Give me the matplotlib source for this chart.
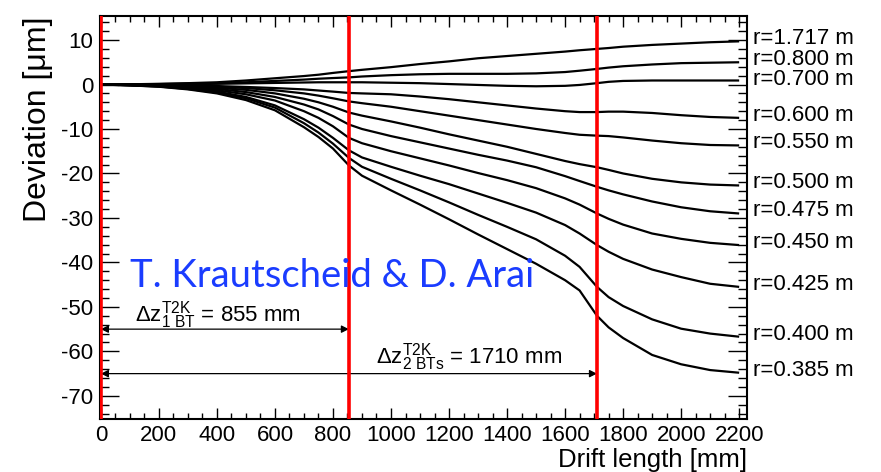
import matplotlib
matplotlib.use('Agg')
import matplotlib.pyplot as plt
from matplotlib.ticker import MultipleLocator

plt.rcParams['font.family'] = ['Liberation Sans', 'DejaVu Sans']
plt.rcParams['mathtext.fontset'] = 'custom'
plt.rcParams['mathtext.rm'] = 'Liberation Sans'
plt.rcParams['mathtext.it'] = 'Liberation Sans:italic'
plt.rcParams['axes.unicode_minus'] = False

drift = [0, 100, 200, 300, 400, 500, 600, 700, 750, 800, 855, 900, 1000,
         1100, 1200, 1300, 1400, 1500, 1600, 1650, 1710, 1750, 1800, 1900,
         2000, 2100, 2200]

radii = ['1.717', '0.800', '0.700', '0.600', '0.550', '0.500', '0.475',
         '0.450', '0.425', '0.400', '0.385']

dev_1717 = [0, 0.05, 0.15, 0.3, 0.5, 0.9, 1.4, 1.9, 2.2, 2.6, 3.0, 3.3, 3.9,
            4.6, 5.2, 5.9, 6.4, 6.9, 7.4, 7.7, 8.0, 8.2, 8.5, 8.9, 9.2, 9.5, 9.7]
dev_0800 = [0, 0.05, 0.1, 0.2, 0.3, 0.5, 0.8, 1.1, 1.3, 1.45, 1.6, 1.8, 2.1,
            2.3, 2.4, 2.4, 2.4, 2.5, 2.8, 3.1, 3.5, 3.8, 4.1, 4.5, 4.8, 4.9, 5.0]
dev_0700 = [0, 0, 0.05, 0.1, 0.15, 0.25, 0.35, 0.45, 0.5, 0.5, 0.5, 0.5, 0.4,
            0.3, 0.1, -0.1, -0.3, -0.4, -0.3, -0.1, 0.3, 0.6, 0.8, 0.9, 0.9,
            0.9, 0.9]
dev_0600 = [0, -0.05, -0.1, -0.2, -0.35, -0.55, -0.8, -1.1, -1.35, -1.6, -1.9,
            -2.0, -2.2, -2.7, -3.3, -4.0, -4.7, -5.4, -6.0, -6.2, -6.2, -6.1,
            -6.1, -6.4, -6.9, -7.3, -7.5]
dev_0550 = [0, -0.05, -0.15, -0.3, -0.5, -0.8, -1.3, -2.0, -2.5, -3.1, -3.8,
            -4.2, -5.0, -6.0, -7.0, -8.0, -9.0, -10.0, -10.9, -11.3, -11.5,
            -11.6, -11.9, -12.6, -13.2, -13.6, -13.7]
dev_0500 = [0, -0.1, -0.2, -0.45, -0.75, -1.2, -2.0, -3.2, -4.0, -5.0, -6.3,
            -7.0, -8.3, -9.7, -11.2, -12.6, -14.0, -15.6, -17.2, -17.9, -18.6,
            -19.2, -20.0, -21.2, -22.0, -22.5, -22.7]
dev_0475 = [0, -0.1, -0.3, -0.6, -1.0, -1.7, -2.8, -4.5, -5.6, -7.1, -9.0,
            -10.0, -11.6, -13.0, -14.4, -15.8, -17.1, -18.6, -20.6, -21.7,
            -23.0, -23.8, -24.7, -26.3, -27.6, -28.5, -29.0]
dev_0450 = [0, -0.15, -0.35, -0.75, -1.3, -2.2, -3.6, -6.0, -7.5, -9.4, -12.0,
            -13.2, -15.0, -16.6, -18.2, -19.9, -21.5, -23.3, -25.6, -27.0,
            -29.0, -30.2, -31.5, -33.5, -34.7, -35.6, -36.1]
dev_0425 = [0, -0.15, -0.4, -0.9, -1.6, -2.8, -4.7, -7.8, -9.7, -12.0, -14.8,
            -16.4, -18.5, -20.5, -22.4, -24.5, -26.6, -28.8, -31.6, -33.5,
            -36.1, -37.6, -39.2, -41.6, -43.3, -44.8, -45.5]
dev_0400 = [0, -0.2, -0.45, -1.0, -1.8, -3.1, -5.2, -8.7, -10.8, -13.3, -16.5,
            -18.5, -21.2, -23.8, -26.5, -29.3, -32.0, -34.8, -38.5, -41.0,
            -45.5, -47.8, -49.8, -52.8, -54.9, -56.0, -56.7]
dev_0385 = [0, -0.2, -0.5, -1.1, -2.0, -3.5, -5.8, -9.6, -11.8, -14.4, -18.2,
            -20.5, -23.8, -27.0, -30.3, -33.7, -37.0, -40.3, -44.0, -46.3,
            -52.0, -54.6, -57.0, -60.8, -62.9, -64.2, -64.8]

curves = [dev_1717, dev_0800, dev_0700, dev_0600, dev_0550, dev_0500,
          dev_0475, dev_0450, dev_0425, dev_0400, dev_0385]

# boundaries (backplane + 1 and 2 boundary-tracks)
boundaries = [0, 855, 1710]


def deviation_plot():
    fig = plt.figure(figsize=(8.81, 4.72), dpi=100)
    ax = fig.add_axes([0.1135, 0.1123, 0.7344, 0.8538])

    for vals in curves:
        ax.plot(drift, vals, color='black', lw=1.6, solid_capstyle='butt')

    for b in boundaries:
        ax.axvline(b, color='#ff0000', lw=2.6, zorder=5)

    # r labels outside the frame on the right, kept apart a little
    last = None
    for r, vals in zip(radii, curves):
        ypos = vals[-1] + 0.6
        if last is not None and last - ypos < 4.4:
            ypos = last - 4.4
        last = ypos
        ax.text(1.009, ypos, 'r=%s m' % r, transform=ax.get_yaxis_transform(),
                ha='left', va='center', fontsize=16)

    # distance arrows
    ax.annotate('', xy=(855, -55), xytext=(0, -55),
                arrowprops=dict(arrowstyle='<|-|>', lw=0.9, color='black',
                                shrinkA=0, shrinkB=0, mutation_scale=11))
    ax.annotate('', xy=(1710, -65), xytext=(0, -65),
                arrowprops=dict(arrowstyle='<|-|>', lw=0.9, color='black',
                                shrinkA=0, shrinkB=0, mutation_scale=11))
    ax.text(117, -53.3, r'$\Delta\mathrm{z}^{\mathrm{T2K}}_{\mathrm{1\ BT}}$ = 855 mm',
            fontsize=16, va='baseline')
    ax.text(948, -62.7, r'$\Delta\mathrm{z}^{\mathrm{T2K}}_{\mathrm{2\ BTs}}$ = 1710 mm',
            fontsize=16, va='baseline')

    ax.text(100, -45.6, 'T. Krautscheid & D. Arai', color='#1a3cff',
            fontsize=27.5, family='Lato', va='baseline', zorder=6)

    ax.set_xlim(-3, 2227)
    ax.set_ylim(-75.2, 15.4)

    ax.xaxis.set_major_locator(MultipleLocator(200))
    ax.xaxis.set_minor_locator(MultipleLocator(50))
    ax.yaxis.set_major_locator(MultipleLocator(10))
    ax.yaxis.set_minor_locator(MultipleLocator(2))
    ax.tick_params(axis='both', which='both', direction='in', top=True,
                   right=True, width=1.0, labelsize=16)
    ax.tick_params(axis='x', which='major', length=8, pad=4)
    ax.tick_params(axis='x', which='minor', length=4.5)
    ax.tick_params(axis='y', which='major', length=14, pad=5)
    ax.tick_params(axis='y', which='minor', length=6.5)
    for sp in ax.spines.values():
        sp.set_linewidth(1.5)

    ax.set_xlabel('Drift length [mm]', fontsize=18.5, loc='right')
    ax.xaxis.set_label_coords(1.0, -0.073)
    ax.set_ylabel('Deviation [\u03bcm]', fontsize=23, loc='top')
    ax.yaxis.set_label_coords(-0.072, 1.0)

    fig.savefig('out.png', dpi=100)


if __name__ == '__main__':
    deviation_plot()
